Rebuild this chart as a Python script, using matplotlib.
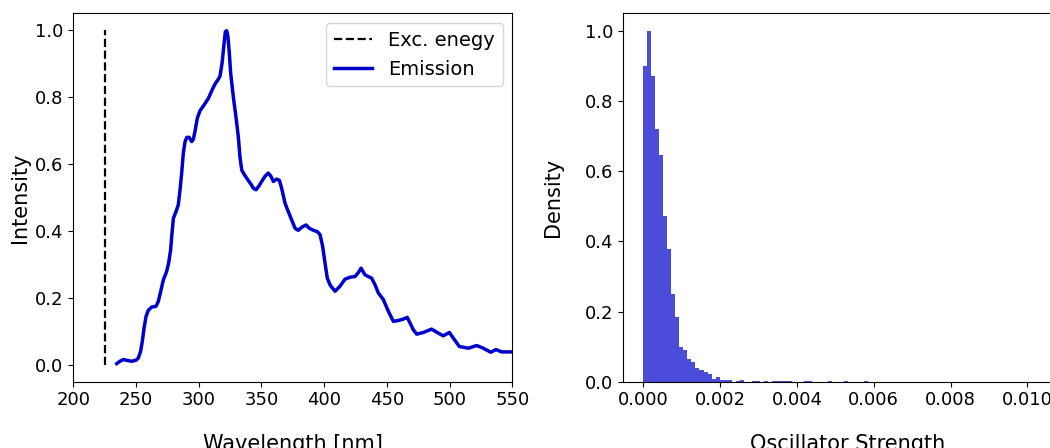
import numpy as np
import matplotlib.pyplot as plt

# emission spectrum
wavelength = [234.6, 237.2, 239.9, 242.6, 246.5, 250.0, 251.9, 253.7, 255.0, 256.4,
              258.0, 259.8, 262.5, 265.9, 267.8, 269.7, 271.8, 274.4, 276.0, 277.6,
              278.7, 279.8, 281.9, 283.7, 285.1, 286.4, 287.7, 289.1, 290.4, 292.3,
              294.4, 295.7, 297.0, 298.9, 301.0, 304.2, 307.7, 310.3, 313.0, 315.6,
              317.0, 318.6, 320.2, 321.2, 322.3, 323.3, 324.4, 325.5, 327.6, 329.7,
              331.6, 332.9, 334.3, 336.1, 338.2, 341.4, 343.5, 345.7, 348.1, 350.2,
              352.8, 355.5, 357.6, 359.5, 362.1, 364.3, 366.1, 368.8, 371.4, 374.1,
              376.8, 379.4, 382.1, 385.5, 388.2, 391.4, 394.6, 396.7, 398.8, 400.7,
              402.5, 404.7, 408.7, 412.6, 416.6, 420.6, 424.6, 427.3, 429.4, 432.6,
              435.2, 437.9, 440.6, 443.2, 447.2, 451.2, 455.2, 459.2, 463.1, 466.3,
              468.5, 471.1, 473.8, 479.1, 485.7, 491.0, 495.0, 499.8, 503.0, 507.8,
              515.0, 521.6, 526.9, 532.8, 537.0, 541.5, 550.0, 556.0]
intensity = [0.004, 0.011, 0.016, 0.014, 0.011, 0.014, 0.021, 0.041, 0.070, 0.110,
             0.145, 0.163, 0.173, 0.175, 0.190, 0.220, 0.254, 0.279, 0.304, 0.344,
             0.394, 0.438, 0.458, 0.478, 0.523, 0.573, 0.632, 0.667, 0.679, 0.680,
             0.667, 0.674, 0.697, 0.737, 0.759, 0.776, 0.796, 0.818, 0.839, 0.853,
             0.863, 0.901, 0.960, 0.995, 0.998, 0.980, 0.930, 0.870, 0.800, 0.740,
             0.680, 0.620, 0.582, 0.570, 0.558, 0.541, 0.528, 0.523, 0.535, 0.548,
             0.563, 0.573, 0.563, 0.548, 0.555, 0.551, 0.528, 0.483, 0.458, 0.433,
             0.408, 0.402, 0.411, 0.418, 0.408, 0.402, 0.398, 0.389, 0.354, 0.304,
             0.259, 0.239, 0.220, 0.235, 0.256, 0.262, 0.264, 0.276, 0.289, 0.269,
             0.264, 0.259, 0.239, 0.215, 0.195, 0.160, 0.130, 0.133, 0.137, 0.142,
             0.125, 0.105, 0.092, 0.097, 0.107, 0.095, 0.087, 0.097, 0.080, 0.055,
             0.050, 0.058, 0.050, 0.038, 0.046, 0.039, 0.039, 0.037]
exc_energy = 225

# oscillator strength histogram, normalised bin heights
bin_width = 0.0001045
density = [0.900, 1.000, 0.872, 0.720, 0.646, 0.472, 0.378, 0.250, 0.184, 0.099,
           0.090, 0.065, 0.056, 0.039, 0.033, 0.027, 0.022, 0.008, 0.013, 0.005,
           0.005, 0.005, 0.000, 0.002, 0.005, 0.000, 0.000, 0.002, 0.002, 0.000,
           0.002, 0.000, 0.002, 0.002, 0.002, 0.002, 0.002, 0.000, 0.000, 0.000,
           0.002, 0.002, 0.000, 0.000, 0.000, 0.000, 0.002, 0.000, 0.000, 0.000,
           0.002, 0.000, 0.000, 0.000, 0.000, 0.002, 0.000, 0.000, 0.000, 0.000]
density += [0.0] * (100 - len(density))

fig = plt.figure(figsize=(10.5, 4.48), dpi=100)
ax1 = fig.add_axes([73.3 / 1050, 66.3 / 448, 439 / 1050, 368.4 / 448])
ax2 = fig.add_axes([623 / 1050, 66.3 / 448, 449 / 1050, 368.4 / 448])

# 왼쪽: 발광 스펙트럼
ax1.plot([exc_energy, exc_energy], [0, 1], color='black', linestyle='--', linewidth=1.6, label='Exc. enegy')
ax1.plot(wavelength, intensity, color='mediumblue', linewidth=2.5, label='Emission')
ax1.set_xlim(200, 550)
ax1.set_ylim(-0.05, 1.05)
ax1.set_xlabel('Wavelength [nm]', fontsize=15, labelpad=18)
ax1.set_ylabel('Intensity', fontsize=15)
ax1.tick_params(labelsize=13)
ax1.legend(fontsize=14, loc='upper right')

# 오른쪽: 진동자 세기 히스토그램
edges = np.arange(len(density)) * bin_width
ax2.bar(edges, density, width=bin_width, align='edge', color='mediumblue', alpha=0.7, linewidth=0)
ax2.set_xlim(-0.000529, 0.011164)
ax2.set_ylim(0, 1.05)
ax2.set_xticks([0, 0.002, 0.004, 0.006, 0.008, 0.010])
ax2.set_xticklabels(['0.000', '0.002', '0.004', '0.006', '0.008', '0.010'])
ax2.set_xlabel('Oscillator Strength', fontsize=15, labelpad=18)
ax2.set_ylabel('Density', fontsize=15, labelpad=16)
ax2.tick_params(labelsize=13)

plt.savefig('out.png', dpi=100)
